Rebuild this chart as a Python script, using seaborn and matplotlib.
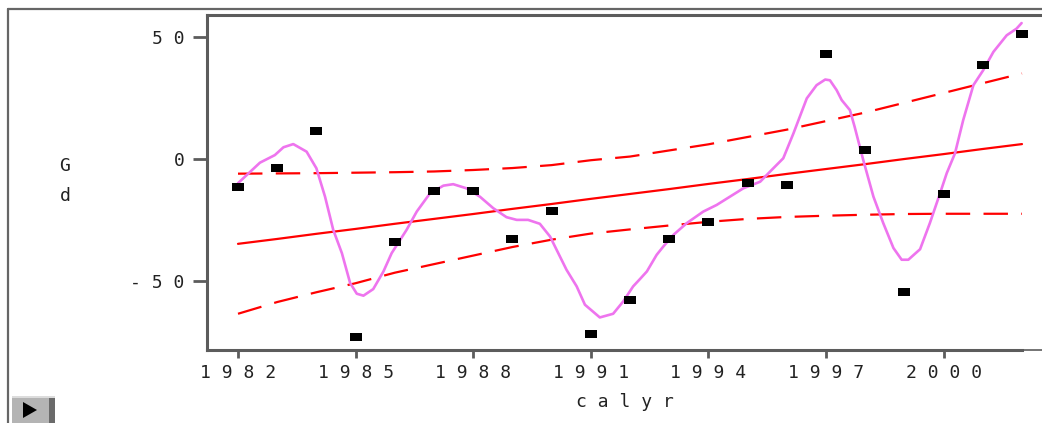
import matplotlib
matplotlib.use("Agg")
import matplotlib.pyplot as plt
from matplotlib.lines import Line2D
from matplotlib.patches import Rectangle, Polygon
import pandas as pd
import seaborn as sns

# observed points
years = list(range(1982, 2003))
gd = [-11.4, -3.7, 11.4, -73.0, -33.9, -13.0, -13.0, -32.7, -21.2, -71.4, -57.6,
      -32.7, -25.7, -9.8, -10.6, 42.9, 3.7, -54.3, -14.3, 38.4, 51.0]

# linear fit and its confidence band, read per year
fit = [-34.7, -32.7, -30.6, -28.6, -26.5, -24.5, -22.5, -20.4, -18.4, -16.3, -14.3,
       -12.3, -10.2, -8.2, -6.1, -4.1, -2.1, 0.0, 2.0, 4.1, 6.1]
upper = [-6.0, -5.9, -5.8, -5.6, -5.4, -5.1, -4.5, -3.7, -2.5, -0.5, 1.0,
         3.5, 6.0, 9.0, 12.0, 15.5, 19.0, 23.0, 27.0, 31.0, 35.0]
lower = [-63.3, -58.5, -54.5, -50.8, -46.5, -43.0, -39.5, -36.0, -33.0, -30.5, -28.8,
         -27.2, -25.7, -24.5, -23.7, -23.2, -22.8, -22.5, -22.4, -22.4, -22.4]

# smoothing spline
smooth_x = [1982.0, 1982.56, 1982.94, 1983.16, 1983.41, 1983.75, 1984.0, 1984.22, 1984.43,
            1984.65, 1984.86, 1985.03, 1985.2, 1985.45, 1985.71, 1985.92, 1986.3, 1986.56,
            1986.9, 1987.24, 1987.49, 1987.83, 1988.17, 1988.51, 1988.85, 1989.11, 1989.4,
            1989.7, 1989.96, 1990.17, 1990.38, 1990.64, 1990.85, 1991.23, 1991.57, 1991.83,
            1992.08, 1992.26, 1992.43, 1992.68, 1992.85, 1993.11, 1993.45, 1993.87, 1994.21,
            1994.55, 1994.89, 1995.32, 1995.57, 1995.91, 1996.17, 1996.51, 1996.76, 1996.98,
            1997.1, 1997.27, 1997.4, 1997.61, 1997.73, 1997.95, 1998.21, 1998.46, 1998.72,
            1998.93, 1999.1, 1999.4, 1999.65, 1999.91, 2000.08, 2000.29, 2000.5, 2000.76,
            2001.01, 2001.27, 2001.61, 2001.86, 2001.99]
smooth_y = [-9.9, -1.5, 1.6, 4.8, 6.1, 3.0, -3.8, -15.4, -29.0,
            -38.5, -50.7, -55.1, -55.9, -53.2, -46.0, -38.5, -29.0, -21.5,
            -14.0, -10.9, -10.3, -12.0, -15.4, -20.1, -23.8, -24.9, -24.9,
            -26.5, -31.7, -38.5, -45.3, -52.1, -59.6, -64.8, -63.3, -58.2,
            -52.1, -49.0, -46.0, -39.2, -35.8, -31.0, -26.2, -21.5, -18.8,
            -15.4, -12.0, -9.3, -5.2, 0.3, 10.5, 24.8, 30.2, 32.5,
            32.2, 28.2, 24.1, 20.0, 13.2, -0.4, -15.4, -26.2, -36.4,
            -41.2, -41.2, -36.9, -26.2, -14.0, -5.8, 2.3, 15.9, 30.2,
            36.3, 43.8, 50.6, 53.3, 55.6]

xticks = [1982, 1985, 1988, 1991, 1994, 1997, 2000]
yticks = [-50, 0, 50]

pts = pd.DataFrame({"calyr": years, "Gd": gd})
band = pd.DataFrame({"calyr": years, "fit": fit, "upper": upper, "lower": lower})
smooth = pd.DataFrame({"calyr": smooth_x, "Gd": smooth_y})

sns.set_style("white")
plt.rcParams["font.family"] = ["DejaVu Sans Mono"]

W, H = 1042, 423
fig = plt.figure(figsize=(W / 100, H / 100), dpi=100)
ax = fig.add_axes([207 / W, (H - 350) / H, (W - 207) / W, (350 - 15) / H])

red = "#ff0000"
sns.lineplot(data=band, x="calyr", y="fit", color=red, lw=1.6, ax=ax)
sns.lineplot(data=band, x="calyr", y="upper", color=red, lw=1.6,
             linestyle=(0, (11, 6)), ax=ax)
sns.lineplot(data=band, x="calyr", y="lower", color=red, lw=1.6,
             linestyle=(0, (11, 6)), ax=ax)
sns.lineplot(data=smooth, x="calyr", y="Gd", color="#ee74ee", lw=1.9, ax=ax)

rect = [(-0.5, -0.32), (0.5, -0.32), (0.5, 0.32), (-0.5, 0.32)]
sns.scatterplot(data=pts, x="calyr", y="Gd", marker=rect, s=78, color="black",
                linewidth=0, ax=ax, zorder=5)

ax.set_xlim(1982 - 31 / 39.2, 1982 + (W - 238) / 39.2)
ax.set_ylim(-(350 - 159) / 2.445, (159 - 15) / 2.445)

grey = "#5c5c5c"
ax.set_xticks(xticks)
ax.set_xticklabels([" ".join(str(t)) for t in xticks])
ax.set_yticks(yticks)
ax.set_yticklabels([" ".join(str(t)) for t in yticks])
ax.tick_params(axis="x", length=6, width=2, color=grey, pad=4, labelsize=13,
               labelcolor="#222222", direction="out", bottom=True)
ax.tick_params(axis="y", length=10, width=2, color=grey, pad=6, labelsize=13,
               labelcolor="#222222", direction="out", left=True)
ax.set_xlabel("c a l y r", fontsize=13, color="#222222", labelpad=8)
ax.set_ylabel("")

for side in ["left", "bottom", "top"]:
    ax.spines[side].set_visible(True)
    ax.spines[side].set_color(grey)
    ax.spines[side].set_linewidth(2.2)
ax.spines["right"].set_visible(False)
ax.spines["bottom"].set_bounds(ax.get_xlim()[0], 2002)
ax.axhline(ax.get_ylim()[0], xmin=(1021 - 207) / (W - 207), xmax=1, color=grey,
           lw=1.2, clip_on=False)

fig.text(65 / W, 1 - 181 / H, "G\nd", ha="center", va="center", fontsize=13,
         color="#222222", linespacing=1.9)

# outer window frame
fig.add_artist(Line2D([8 / W, 8 / W], [0, 1 - 9 / H], color="#666666", lw=1.6))
fig.add_artist(Line2D([8 / W, 1], [1 - 9 / H, 1 - 9 / H], color="#666666", lw=1.6))

# small play button bottom-left
fig.add_artist(Rectangle((12 / W, 0), 43 / W, 27 / H, facecolor="#b4b4b4",
                         edgecolor="none", transform=fig.transFigure))
fig.add_artist(Rectangle((49 / W, 0), 6 / W, 27 / H, facecolor="#6a6a6a",
                         edgecolor="none", transform=fig.transFigure))
fig.add_artist(Rectangle((12 / W, 25 / H), 43 / W, 2 / H, facecolor="#dcdcdc",
                         edgecolor="none", transform=fig.transFigure))
fig.add_artist(Polygon([(23 / W, 1 - 402 / H), (23 / W, 1 - 418 / H), (37 / W, 1 - 410 / H)],
                       closed=True, facecolor="black", edgecolor="none",
                       transform=fig.transFigure))

fig.savefig("out.png", dpi=100)
